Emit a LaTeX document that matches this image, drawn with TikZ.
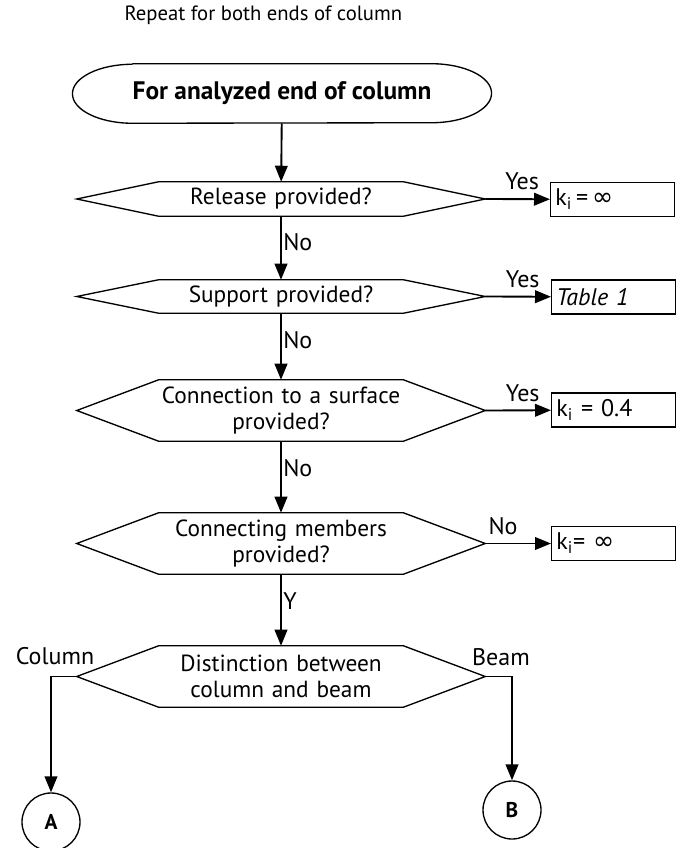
\documentclass[tikz,border=0pt]{standalone}
\usepackage{fontspec}
\setmainfont{PT Sans}
\newfontfamily\symfont{DejaVu Sans}
\usetikzlibrary{arrows.meta}

\tikzset{
    flow/.style={line width=1.4pt, -{Triangle[length=12pt,width=9.5pt]}},
    question/.style={inner sep=0pt, text width=183pt, align=center,
        font=\fontsize{17.5}{19.5}\selectfont},
    outcome/.style={draw, line width=1pt, anchor=west, minimum height=25.5pt,
        text width=86pt, inner xsep=3.5pt, align=left,
        font=\fontsize{18}{20}\selectfont},
    answer/.style={inner sep=1pt, font=\fontsize{18}{20}\selectfont},
    connector/.style={draw, circle, line width=1pt, minimum size=43.5pt,
        inner sep=0pt, font=\bfseries\fontsize{16}{18}\selectfont}
}
\newcommand{\kinf}{{\symfont\fontsize{19}{20}\selectfont ∞}}

\begin{document}
\begin{tikzpicture}[x=0.75pt, y=-0.75pt]
    \useasboundingbox (0,0) rectangle (676,848);

    \node[inner sep=1pt, anchor=west, font=\fontsize{15.5}{18}\selectfont] (note) at (123,15)
        {Repeat for both ends of column};

    % start terminal with elliptic ends
    \node[inner sep=0pt, minimum width=202.5pt, minimum height=44.25pt,
        font=\bfseries\fontsize{19}{21}\selectfont] (start) at (282,93.5)
        {For analyzed end of column};
    \draw[line width=1pt] (start.north west) -- (start.north east)
        arc[start angle=90, end angle=-90, x radius=45pt, y radius=22.125pt]
        -- (start.south west)
        arc[start angle=270, end angle=90, x radius=45pt, y radius=22.125pt];

    % questions
    \node[question, minimum height=25.5pt] (release) at (281,199) {Release provided?};
    \node[question, minimum height=24.75pt] (support) at (281,296.5) {Support provided?};
    \node[question, minimum height=45.75pt] (surface) at (281,410.5) {Connection to a surface\\provided?};
    \node[question, minimum height=45.75pt] (members) at (281,543.5) {Connecting members\\provided?};
    \node[question, minimum height=45.75pt] (split) at (281,676.5) {Distinction between\\column and beam};

    \foreach \q in {release,support,surface,members,split}{
        \coordinate (\q-w) at ([xshift=-61.5pt]\q.west);
        \coordinate (\q-e) at ([xshift=61.5pt]\q.east);
        \draw[line width=1pt] (\q.north west) -- (\q.north east) -- (\q-e)
            -- (\q.south east) -- (\q.south west) -- (\q-w) -- cycle;
    }

    % outcomes
    \node[outcome] (infA) at (550,199.5) {k\textsubscript{i}\,=\,\kinf};
    \node[outcome] (tab) at (551,297) {\itshape Table 1};
    \node[outcome] (fixed) at (551,410) {k\textsubscript{i} = 0.4};
    \node[outcome] (infB) at (551,543.5) {k\textsubscript{i}= \kinf};

    \node[connector] (colA) at (51,822) {A};
    \node[connector] (colB) at (512,810) {B};

    % connectors
    \draw[flow] (start) -- (release);
    \draw[flow] (release) -- node[answer, pos=0.4, anchor=west] {No} (support);
    \draw[flow] (support) -- node[answer, pos=0.4, anchor=west] {No} (surface);
    \draw[flow] (surface) -- node[answer, pos=0.38, anchor=west] {No} (members);
    \draw[flow] (members) -- node[answer, pos=0.38, anchor=west] {Y} (split);

    \draw[flow] (release-e) -- node[answer, pos=0.57, above=5pt] {Yes} (infA);
    \draw[flow] (support-e) -- node[answer, pos=0.57, above=5pt] {Yes} (tab);
    \draw[flow] (surface-e) -- node[answer, pos=0.57, above=5pt] {Yes} (fixed);
    \draw[flow] (members-e) -- node[answer, pos=0.27, above=5pt] {No} (infB);

    \draw[flow] (split-w) -| (colA);
    \draw[flow] (split-e) -| (colB);
    \node[answer, fill=white] (colword) at (55,656) {Column};
    \node[answer, fill=white] (beamword) at (501,657) {Beam};
\end{tikzpicture}
\end{document}
